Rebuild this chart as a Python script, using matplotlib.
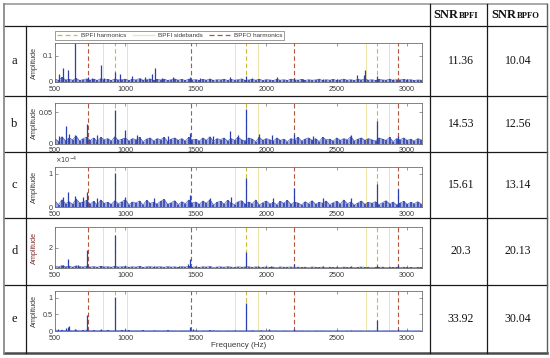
import matplotlib
matplotlib.use('Agg')
import matplotlib.pyplot as plt
import numpy as np
from matplotlib.lines import Line2D

# ---------------- data ----------------
row_labels = ['a', 'b', 'c', 'd', 'e']
snr_bpfi = ['11.36', '14.53', '15.61', '20.3', '33.92']
snr_bpfo = ['10.04', '12.56', '13.14', '20.13', '30.04']

bpfi_harm = [928, 1857, 2786]
bpfi_side = [843, 1010, 1777, 1943, 2707, 2873]
bpfo_harm = [733, 1466, 2199, 2932]

xticks = [500, 1000, 1500, 2000, 2500, 3000]
xtick_labels = ['500', '1000', '1500', '2000', '2500', '3000']

# sampled noise floor (every 25 Hz from 500 Hz to 3100 Hz)
noise_f0, noise_f1, noise_df = 500, 3100, 25

a_noise = [0.012, 0.006, 0.018, 0.008, 0.010, 0.007, 0.014, 0.006, 0.009, 0.012,
           0.007, 0.011, 0.006, 0.013, 0.008, 0.010, 0.006, 0.012, 0.008, 0.009,
           0.011, 0.006, 0.010, 0.008, 0.013, 0.007, 0.009, 0.012, 0.006, 0.010,
           0.008, 0.011, 0.006, 0.009, 0.012, 0.007, 0.010, 0.006, 0.011, 0.008,
           0.009, 0.006, 0.010, 0.007, 0.012, 0.006, 0.009, 0.008, 0.011, 0.006,
           0.010, 0.007, 0.009, 0.012, 0.006, 0.008, 0.010, 0.007, 0.011, 0.006,
           0.009, 0.008, 0.006, 0.010, 0.007, 0.009, 0.006, 0.011, 0.008, 0.007,
           0.010, 0.006, 0.009, 0.007, 0.008, 0.011, 0.006, 0.009, 0.007, 0.010,
           0.006, 0.008, 0.011, 0.007, 0.009, 0.006, 0.010, 0.008, 0.012, 0.007,
           0.009, 0.006, 0.010, 0.008, 0.007, 0.011, 0.006, 0.009, 0.008, 0.010,
           0.007, 0.009, 0.006, 0.008, 0.007]
b_noise = [0.008, 0.003, 0.011, 0.004, 0.009, 0.006, 0.012, 0.004, 0.008, 0.010,
           0.005, 0.009, 0.003, 0.010, 0.006, 0.008, 0.004, 0.011, 0.005, 0.007,
           0.009, 0.004, 0.008, 0.006, 0.010, 0.003, 0.007, 0.009, 0.004, 0.008,
           0.006, 0.010, 0.003, 0.007, 0.009, 0.005, 0.008, 0.004, 0.010, 0.006,
           0.007, 0.004, 0.009, 0.005, 0.011, 0.003, 0.008, 0.006, 0.009, 0.004,
           0.008, 0.005, 0.010, 0.006, 0.004, 0.009, 0.007, 0.003, 0.010, 0.005,
           0.008, 0.006, 0.004, 0.009, 0.005, 0.007, 0.003, 0.008, 0.006, 0.010,
           0.004, 0.007, 0.009, 0.005, 0.008, 0.003, 0.010, 0.006, 0.007, 0.004,
           0.009, 0.005, 0.008, 0.006, 0.011, 0.004, 0.007, 0.009, 0.005, 0.008,
           0.006, 0.004, 0.009, 0.007, 0.005, 0.010, 0.003, 0.008, 0.006, 0.009,
           0.005, 0.007, 0.004, 0.008, 0.006]
c_noise_e4 = [0.18, 0.07, 0.22, 0.10, 0.16, 0.08, 0.24, 0.12, 0.15, 0.20,
              0.09, 0.17, 0.06, 0.21, 0.11, 0.14, 0.08, 0.19, 0.10, 0.16,
              0.22, 0.07, 0.15, 0.12, 0.18, 0.06, 0.20, 0.11, 0.14, 0.09,
              0.17, 0.23, 0.08, 0.13, 0.19, 0.07, 0.16, 0.10, 0.21, 0.12,
              0.15, 0.08, 0.18, 0.11, 0.22, 0.06, 0.14, 0.17, 0.09, 0.20,
              0.12, 0.07, 0.16, 0.19, 0.08, 0.15, 0.10, 0.21, 0.06, 0.13,
              0.18, 0.09, 0.14, 0.07, 0.17, 0.11, 0.20, 0.08, 0.15, 0.12,
              0.06, 0.16, 0.10, 0.19, 0.08, 0.14, 0.11, 0.18, 0.07, 0.13,
              0.17, 0.09, 0.21, 0.10, 0.15, 0.06, 0.12, 0.18, 0.08, 0.14,
              0.11, 0.16, 0.07, 0.13, 0.19, 0.09, 0.15, 0.06, 0.12, 0.17,
              0.08, 0.14, 0.10, 0.16, 0.09]
d_noise = [0.20, 0.10, 0.25, 0.12, 0.18, 0.08, 0.22, 0.14, 0.10, 0.19,
           0.09, 0.15, 0.07, 0.18, 0.11, 0.13, 0.08, 0.16, 0.10, 0.12,
           0.15, 0.07, 0.13, 0.09, 0.17, 0.06, 0.12, 0.14, 0.08, 0.11,
           0.13, 0.07, 0.15, 0.09, 0.12, 0.06, 0.14, 0.10, 0.16, 0.08,
           0.11, 0.06, 0.13, 0.09, 0.15, 0.05, 0.10, 0.12, 0.07, 0.14,
           0.09, 0.06, 0.12, 0.08, 0.10, 0.13, 0.06, 0.11, 0.08, 0.07,
           0.10, 0.06, 0.09, 0.05, 0.11, 0.07, 0.08, 0.10, 0.05, 0.09,
           0.06, 0.08, 0.05, 0.10, 0.07, 0.06, 0.09, 0.05, 0.08, 0.06,
           0.07, 0.05, 0.09, 0.06, 0.08, 0.05, 0.07, 0.10, 0.06, 0.08,
           0.05, 0.07, 0.06, 0.09, 0.05, 0.08, 0.06, 0.07, 0.05, 0.08,
           0.06, 0.07, 0.05, 0.06, 0.07]
e_noise = [0.030, 0.012, 0.025, 0.010, 0.022, 0.015, 0.028, 0.010, 0.018, 0.024,
           0.011, 0.020, 0.009, 0.017, 0.012, 0.022, 0.008, 0.015, 0.011, 0.019,
           0.010, 0.016, 0.008, 0.014, 0.011, 0.018, 0.007, 0.013, 0.010, 0.015,
           0.008, 0.012, 0.017, 0.009, 0.013, 0.007, 0.015, 0.010, 0.012, 0.008,
           0.014, 0.007, 0.011, 0.009, 0.016, 0.008, 0.012, 0.010, 0.007, 0.013,
           0.009, 0.011, 0.007, 0.014, 0.008, 0.010, 0.012, 0.007, 0.011, 0.009,
           0.006, 0.012, 0.008, 0.010, 0.007, 0.011, 0.009, 0.006, 0.010, 0.008,
           0.012, 0.007, 0.009, 0.006, 0.011, 0.008, 0.010, 0.007, 0.009, 0.006,
           0.010, 0.008, 0.007, 0.011, 0.006, 0.009, 0.008, 0.010, 0.006, 0.009,
           0.007, 0.010, 0.006, 0.008, 0.009, 0.007, 0.010, 0.006, 0.008, 0.007,
           0.009, 0.006, 0.008, 0.007, 0.009]

# spectral peaks (frequency Hz, amplitude)
a_pk_f = [531, 559, 595, 642, 737, 760, 827, 850, 926, 962, 1045, 1100, 1140, 1187, 1211,
          1260, 1341, 1460, 1530, 1600, 1744, 1857, 1900, 2075, 2194, 2260, 2400, 2500,
          2644, 2691, 2703, 2786, 2900, 3000]
a_pk_a = [0.030, 0.055, 0.048, 0.150, 0.020, 0.014, 0.065, 0.016, 0.040, 0.030, 0.025, 0.015,
          0.020, 0.030, 0.055, 0.015, 0.018, 0.020, 0.015, 0.013, 0.018, 0.025, 0.014, 0.018,
          0.015, 0.012, 0.012, 0.013, 0.028, 0.028, 0.045, 0.022, 0.012, 0.012]
b_pk_f = [531, 578, 600, 640, 730, 800, 926, 997, 1080, 1300, 1459, 1620, 1744, 1800, 1857,
          1950, 2040, 2199, 2330, 2600, 2786, 2935]
b_pk_a = [0.012, 0.028, 0.015, 0.014, 0.032, 0.013, 0.053, 0.022, 0.013, 0.012, 0.017, 0.012,
          0.020, 0.013, 0.055, 0.015, 0.014, 0.016, 0.012, 0.013, 0.036, 0.012]
c_pk_f = [560, 590, 640, 700, 730, 800, 926, 1000, 1200, 1459, 1600, 1750, 1857, 2050, 2199,
          2400, 2600, 2786, 2935]
c_pk_a_e4 = [0.30, 0.44, 0.32, 0.30, 0.44, 0.28, 1.02, 0.30, 0.28, 0.35, 0.28, 0.30, 0.86,
             0.27, 0.56, 0.26, 0.27, 0.68, 0.54]
d_pk_f = [560, 590, 660, 730, 830, 926, 1000, 1200, 1380, 1445, 1459, 1600, 1857, 1940, 2030,
          2199, 2400, 2600, 2786, 2935]
d_pk_a = [0.35, 0.93, 0.30, 1.77, 0.25, 3.33, 0.22, 0.22, 0.25, 0.40, 0.87, 0.20, 1.60, 0.22,
          0.25, 0.43, 0.18, 0.22, 0.33, 0.33]
e_pk_f = [520, 578, 590, 602, 640, 730, 830, 926, 1000, 1200, 1459, 1480, 1620, 1780, 1857,
          1900, 1960, 2020, 2199, 2600, 2786, 2935]
e_pk_a = [0.05, 0.08, 0.12, 0.15, 0.05, 0.47, 0.05, 1.03, 0.06, 0.03, 0.13, 0.05, 0.04, 0.03,
          0.83, 0.04, 0.04, 0.05, 0.07, 0.04, 0.32, 0.06]

E4 = 1e-4
ylims = [0.15, 0.065, 1.2 * E4, 4.1, 1.2]
yticks = [[0, 0.1], [0, 0.05], [0, 1 * E4], [0, 2], [0, 0.5, 1]]
ytick_labels = [['0', '0.1'], ['0', '0.05'], ['0', '1'], ['0', '2'], ['0', '0.5', '1']]
y_multipliers = [None, None, r'$\times10^{-4}$', None, None]

noises = [a_noise, b_noise, [v * E4 for v in c_noise_e4], d_noise, e_noise]
peaks_f = [a_pk_f, b_pk_f, c_pk_f, d_pk_f, e_pk_f]
peaks_a = [a_pk_a, b_pk_a, [v * E4 for v in c_pk_a_e4], d_pk_a, e_pk_a]

# ---------------- styling ----------------
W, H = 550, 358
BLUE = '#2b3fae'
C_BPFI = '#cdb93e'
C_SIDE = '#efe4a6'
C_BPFO = '#b4563c'
GRAY = '#6f6f6f'
TXT = '#3a3a3a'

fig = plt.figure(figsize=(W / 100, H / 100), dpi=100)

# table grid on a full-figure background axes (pixel coords)
bg = fig.add_axes([0, 0, 1, 1])
bg.set_xlim(0, W)
bg.set_ylim(H, 0)
bg.axis('off')

hlines = [26, 96, 152, 218, 285]
for yy in hlines:
    bg.plot([3.5, 547], [yy, yy], color='#1a1a1a', lw=0.9)
bg.plot([3.5, 547], [3.5, 3.5], color='#9a9a9a', lw=1.2)
bg.plot([3.5, 547], [353, 353], color='#4a4a4a', lw=1.8)
bg.plot([3.5, 3.5], [3.5, 353], color='#8a8a8a', lw=1.3)
bg.plot([547, 547], [3.5, 353], color='#5a5a5a', lw=1.0)
bg.plot([26, 26], [26, 353], color='#1a1a1a', lw=0.9)
bg.plot([430, 430], [3.5, 353], color='#1a1a1a', lw=0.9)
bg.plot([487, 487], [3.5, 353], color='#1a1a1a', lw=0.9)

serif = ['Liberation Serif', 'DejaVu Serif']
# header
bg.text(458.5, 18.5, 'SNR', ha='right', va='baseline', fontsize=9, fontweight='bold', family=serif, color='#111')
bg.text(459, 18.5, 'BPFI', ha='left', va='baseline', fontsize=6.2, fontweight='bold', family=serif, color='#111')
bg.text(516.5, 18.5, 'SNR', ha='right', va='baseline', fontsize=9, fontweight='bold', family=serif, color='#111')
bg.text(517, 18.5, 'BPFO', ha='left', va='baseline', fontsize=6.2, fontweight='bold', family=serif, color='#111')

row_bounds = [(26, 96), (96, 152), (152, 218), (218, 285), (285, 353)]
for i, (y0, y1) in enumerate(row_bounds):
    yc = (y0 + y1) / 2
    bg.text(14.5, yc, row_labels[i], ha='center', va='center', fontsize=9, family=serif, color='#111')
    bg.text(461, yc, snr_bpfi[i], ha='center', va='center', fontsize=8.5, family=serif, color='#111')
    bg.text(518, yc, snr_bpfo[i], ha='center', va='center', fontsize=8.5, family=serif, color='#111')

# spectrum axes, pixel (top, bottom)
ax_px = [(43, 82), (103, 143.5), (167, 207), (227, 268), (291, 331)]
left_px, right_px = 55, 422
noise_f = np.arange(noise_f0, noise_f1 + 1, noise_df)
sans = ['Liberation Sans', 'DejaVu Sans']

axes = []
for i, (t, b) in enumerate(ax_px):
    ax = fig.add_axes([left_px / W, 1 - b / H, (right_px - left_px) / W, (b - t) / H])
    axes.append(ax)
    for f in bpfi_side:
        ax.axvline(f, color=C_SIDE, lw=0.7, zorder=1)
    for f in bpfi_harm:
        ax.axvline(f, color=C_BPFI, lw=0.8, ls=(0, (4, 2.5)), zorder=1)
    for f in bpfo_harm:
        ax.axvline(f, color=C_BPFO, lw=0.8, ls=(0, (4, 2.5)), zorder=1)
    ax.fill_between(noise_f, 0, noises[i], color=BLUE, alpha=0.45, lw=0, zorder=2)
    ax.vlines(noise_f, 0, noises[i], color=BLUE, lw=1.1, zorder=2)
    ax.plot(noise_f, noises[i], color=BLUE, lw=0.5, alpha=0.8, zorder=2)
    ax.vlines(peaks_f[i], 0, peaks_a[i], color=BLUE, lw=0.9, zorder=2)
    ax.set_xlim(500, 3105)
    ax.set_ylim(0, ylims[i])
    ax.set_xticks(xticks)
    ax.set_xticklabels(xtick_labels, family=sans)
    ax.set_yticks(yticks[i])
    ax.set_yticklabels(ytick_labels[i], family=sans)
    if y_multipliers[i]:
        ax.text(0.0, 1.03, y_multipliers[i], transform=ax.transAxes, ha='left', va='bottom',
                fontsize=4.8, color=TXT)
    ax.tick_params(direction='in', length=2, width=0.5, top=True, right=True,
                   labelsize=5.2, colors=GRAY, labelcolor=TXT)
    ax.tick_params(axis='x', pad=2.6)
    ax.tick_params(axis='y', pad=1.5)
    for s in ax.spines.values():
        s.set_color(GRAY)
        s.set_linewidth(0.6)
    ylab_color = '#7a2f2f' if i == 3 else TXT
    ax.set_ylabel('Amplitude', fontsize=5.2, family=sans, color=ylab_color, labelpad=0)
    ax.yaxis.set_label_coords(-0.047, 0.5)

axes[-1].set_xlabel('Frequency (Hz)', fontsize=5.8, family=sans, color=TXT, labelpad=0.5)

handles = [Line2D([], [], color=C_BPFI, lw=0.9, ls=(0, (4, 2.5))),
           Line2D([], [], color=C_SIDE, lw=0.9),
           Line2D([], [], color=C_BPFO, lw=0.9, ls=(0, (4, 2.5)))]
leg = axes[0].legend(handles, ['BPFI harmonics', 'BPFI sidebands', 'BPFO harmonics'],
                     loc='lower left', bbox_to_anchor=(0, 1.07, 0.624, 0.26), mode='expand',
                     ncol=3, frameon=True, fancybox=False, borderpad=0.3,
                     handlelength=3.2, handletextpad=0.6, columnspacing=1.0,
                     borderaxespad=0, prop={'family': sans, 'size': 4.6})
leg.get_frame().set_edgecolor(GRAY)
leg.get_frame().set_linewidth(0.6)
for t in leg.get_texts():
    t.set_color(TXT)

fig.savefig('out.png', dpi=100)
